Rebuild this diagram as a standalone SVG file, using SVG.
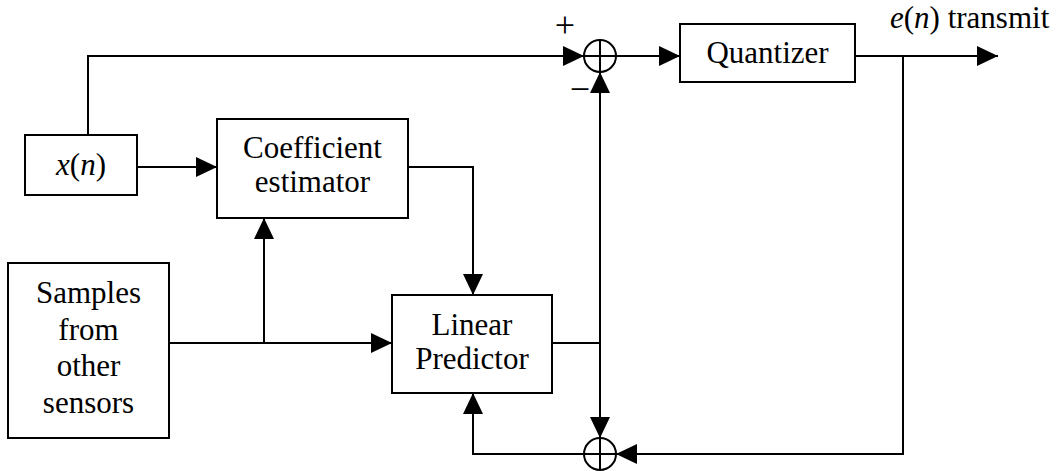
<svg xmlns="http://www.w3.org/2000/svg" width="1060" height="471" viewBox="0 0 1060 471">
<defs>
<marker id="arr" markerUnits="userSpaceOnUse" markerWidth="21" markerHeight="20" refX="21" refY="10" orient="auto">
<path d="M0,0 L21,10 L0,20 z" fill="#000"/>
</marker>
<style>
.box{fill:#fff;stroke:#000;stroke-width:2}
.t{font-size:31px;fill:#000;text-anchor:middle}
.s{font-size:36px}
.l{text-anchor:start}
.i{font-style:italic}
.c{fill:none;stroke:#000;stroke-width:2}
.w{fill:none;stroke:#000;stroke-width:2}
.a{marker-end:url(#arr)}
</style>
</defs>
<rect width="1060" height="471" fill="#fff"/>
<g id="connectors">
<path class="w a" d="M88,135 V56 H584"/>
<path class="w a" d="M616,56 H680"/>
<path class="w a" d="M855,56 H998"/>
<path class="w a" d="M903,56 V454 H616"/>
<path class="w a" d="M137,167 H217"/>
<path class="w a" d="M408,167 H473 V295"/>
<path class="w a" d="M169,343 H392"/>
<path class="w a" d="M264,343 V218"/>
<path class="w" d="M552,343 H600"/>
<path class="w a" d="M600,343 V72"/>
<path class="w a" d="M600,343 V438"/>
<path class="w a" d="M584,454 H473 V393"/>
</g>
<g font-family="'Liberation Serif', 'Times New Roman', 'DejaVu Serif', serif">
<g id="xn">
<rect class="box" x="25" y="135" width="112" height="60"/>
<text class="t" x="81" y="175"><tspan class="i">x</tspan>(<tspan class="i">n</tspan>)</text>
</g>
<g id="coeff">
<rect class="box" x="217" y="119" width="191" height="99"/>
<text class="t" x="312.5" y="158">Coefficient</text>
<text class="t" x="312.5" y="192">estimator</text>
</g>
<g id="samples">
<rect class="box" x="8" y="263" width="161" height="175"/>
<text class="t" x="88.5" y="303">Samples</text>
<text class="t" x="88.5" y="340">from</text>
<text class="t" x="88.5" y="376">other</text>
<text class="t" x="88.5" y="413">sensors</text>
</g>
<g id="lp">
<rect class="box" x="392" y="295" width="160" height="98"/>
<text class="t" x="472" y="335">Linear</text>
<text class="t" x="472" y="369">Predictor</text>
</g>
<g id="quant">
<rect class="box" x="680" y="24" width="175" height="58"/>
<text class="t" x="767.5" y="63">Quantizer</text>
</g>
<g id="sum1">
<circle class="c" cx="600" cy="56" r="16"/>
<path class="w" d="M584,56 H616 M600,40 V72"/>
<text class="t s" x="565" y="37">+</text>
<text class="t s" x="580" y="101">−</text>
</g>
<g id="sum2">
<circle class="c" cx="600" cy="454" r="16"/>
<path class="w" d="M584,454 H616 M600,438 V470"/>
</g>
<g id="out">
<text class="t l" x="890" y="28"><tspan class="i">e</tspan>(<tspan class="i">n</tspan>) transmit</text>
</g>
</g>
</svg>
